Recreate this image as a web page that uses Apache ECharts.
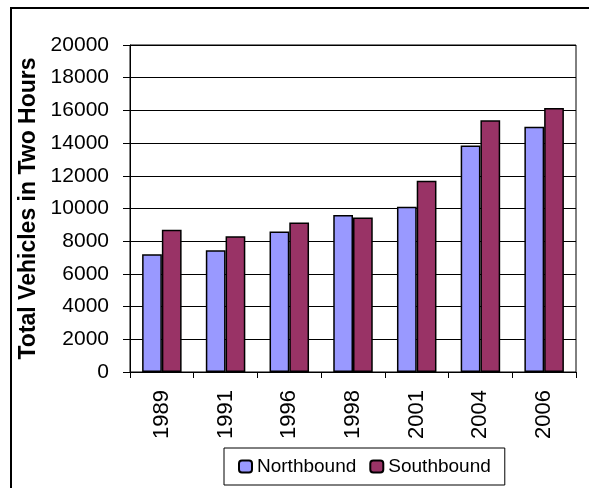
<!DOCTYPE html>
<html>
<head>
<meta charset="utf-8">
<script src="https://cdn.jsdelivr.net/npm/echarts@6/dist/echarts.min.js"></script>
<style>
  html, body { margin: 0; padding: 0; background: #fff; }
  #chart { width: 589px; height: 488px; }
</style>
</head>
<body>
<div id="chart"></div>
<script>
// years along the x axis
const years = ['1989', '1991', '1996', '1998', '2001', '2004', '2006']
// vehicles counted in two hours
const northbound = [7200, 7450, 8600, 9600, 10100, 13850, 15000]
const southbound = [8700, 8300, 9150, 9450, 11700, 15400, 16150]
const yMin = 0
const yMax = 20000
const yStep = 2000

const font = 'Liberation Sans, Arial, sans-serif'

const chart = echarts.init(document.getElementById('chart'))

const option = {
  animation: false,
  textStyle: { fontFamily: font, color: '#000' },
  graphic: [
    {
      // outer chart frame, only left and top edges visible
      type: 'rect',
      shape: { x: 11, y: 8, width: 800, height: 800 },
      style: { fill: 'none', stroke: '#000', lineWidth: 2 }
    }
  ],
  grid: {
    left: 130,
    right: 13,
    top: 45,
    bottom: 116,
    show: true,
    borderColor: '#000',
    borderWidth: 1
  },
  legend: {
    left: 224,
    top: 448,
    padding: [9, 14],
    itemWidth: 13,
    itemHeight: 12,
    itemGap: 13,
    borderColor: '#000',
    borderWidth: 1,
    backgroundColor: '#fff',
    textStyle: { fontFamily: font, fontSize: 19, color: '#000' },
    data: ['Northbound', 'Southbound']
  },
  xAxis: {
    type: 'category',
    data: years,
    axisLine: { lineStyle: { color: '#000', width: 1 } },
    axisTick: { show: true, length: 6, lineStyle: { color: '#000' } },
    axisLabel: { rotate: 90, margin: 18, fontSize: 22, color: '#000', fontFamily: font }
  },
  yAxis: {
    type: 'value',
    min: yMin,
    max: yMax,
    interval: yStep,
    name: 'Total Vehicles in Two Hours',
    nameLocation: 'middle',
    nameGap: 90,
    nameTextStyle: { fontFamily: font, fontSize: 23, fontWeight: 'bold', color: '#000' },
    axisLine: { show: true, lineStyle: { color: '#000', width: 1 } },
    axisTick: { show: true, length: 7, lineStyle: { color: '#000' } },
    axisLabel: {
      margin: 21,
      fontSize: 21,
      color: '#000',
      fontFamily: font,
      formatter: (v) => String(v)
    },
    splitLine: { lineStyle: { color: '#000', width: 1 } }
  },
  series: [
    {
      name: 'Northbound',
      type: 'bar',
      data: northbound,
      barGap: '0%',
      barCategoryGap: '38%',
      itemStyle: { color: '#9999FF', borderColor: '#000', borderWidth: 1.5 }
    },
    {
      name: 'Southbound',
      type: 'bar',
      data: southbound,
      itemStyle: { color: '#993366', borderColor: '#000', borderWidth: 1.5 }
    }
  ]
}

chart.setOption(option)
</script>
</body>
</html>
